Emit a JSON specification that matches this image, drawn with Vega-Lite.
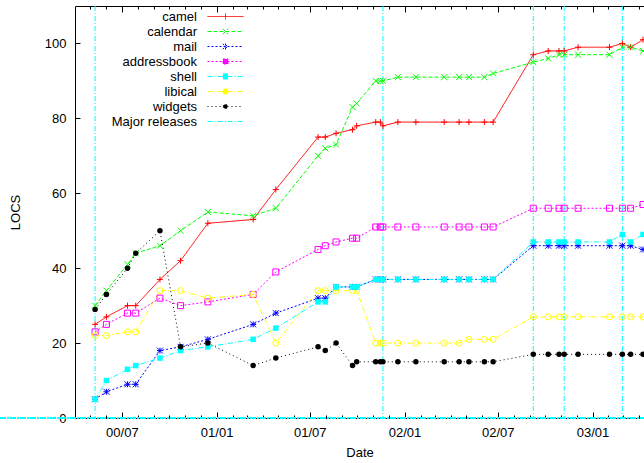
{
  "$schema": "https://vega.github.io/schema/vega-lite/v6.json",
  "width": 569,
  "height": 412,
  "autosize": {"type": "none"},
  "padding": {"left": 75, "top": 6, "right": 0, "bottom": 45},
  "background": "white",
  "config": {
    "view": {"stroke": null},
    "font": "Liberation Sans",
    "axis": {
      "grid": false,
      "labelFont": "Liberation Sans",
      "labelFontSize": 13,
      "labelColor": "#000000",
      "domainColor": "#000000",
      "tickColor": "#000000",
      "titleFont": "Liberation Sans",
      "titleFontSize": 13,
      "titleFontWeight": "normal",
      "titleColor": "#000000"
    },
    "legend": {
      "labelFont": "Liberation Sans",
      "labelFontSize": 13,
      "labelColor": "#000000"
    }
  },
  "data": {
    "values": [
      {"date": "2000-05-10", "series": "camel", "locs": 25},
      {"date": "2000-06-01", "series": "camel", "locs": 27},
      {"date": "2000-07-12", "series": "camel", "locs": 30},
      {"date": "2000-07-28", "series": "camel", "locs": 30},
      {"date": "2000-09-13", "series": "camel", "locs": 37},
      {"date": "2000-10-23", "series": "camel", "locs": 42},
      {"date": "2000-12-15", "series": "camel", "locs": 52},
      {"date": "2001-03-13", "series": "camel", "locs": 53},
      {"date": "2001-04-26", "series": "camel", "locs": 61},
      {"date": "2001-07-17", "series": "camel", "locs": 75},
      {"date": "2001-07-31", "series": "camel", "locs": 75},
      {"date": "2001-08-21", "series": "camel", "locs": 76},
      {"date": "2001-09-22", "series": "camel", "locs": 77},
      {"date": "2001-09-30", "series": "camel", "locs": 78},
      {"date": "2001-11-06", "series": "camel", "locs": 79},
      {"date": "2001-11-15", "series": "camel", "locs": 79},
      {"date": "2001-11-20", "series": "camel", "locs": 78},
      {"date": "2001-12-19", "series": "camel", "locs": 79},
      {"date": "2002-01-23", "series": "camel", "locs": 79},
      {"date": "2002-03-19", "series": "camel", "locs": 79},
      {"date": "2002-04-17", "series": "camel", "locs": 79},
      {"date": "2002-05-06", "series": "camel", "locs": 79},
      {"date": "2002-06-05", "series": "camel", "locs": 79},
      {"date": "2002-06-22", "series": "camel", "locs": 79},
      {"date": "2002-09-08", "series": "camel", "locs": 97},
      {"date": "2002-10-07", "series": "camel", "locs": 98},
      {"date": "2002-10-28", "series": "camel", "locs": 98},
      {"date": "2002-11-07", "series": "camel", "locs": 98},
      {"date": "2002-12-04", "series": "camel", "locs": 99},
      {"date": "2003-02-03", "series": "camel", "locs": 99},
      {"date": "2003-02-28", "series": "camel", "locs": 100},
      {"date": "2003-03-16", "series": "camel", "locs": 99},
      {"date": "2003-04-09", "series": "camel", "locs": 101},

      {"date": "2000-05-10", "series": "calendar", "locs": 30},
      {"date": "2000-06-01", "series": "calendar", "locs": 34},
      {"date": "2000-07-12", "series": "calendar", "locs": 41},
      {"date": "2000-07-28", "series": "calendar", "locs": 44},
      {"date": "2000-09-13", "series": "calendar", "locs": 46},
      {"date": "2000-10-23", "series": "calendar", "locs": 50},
      {"date": "2000-12-15", "series": "calendar", "locs": 55},
      {"date": "2001-03-13", "series": "calendar", "locs": 54},
      {"date": "2001-04-26", "series": "calendar", "locs": 56},
      {"date": "2001-07-17", "series": "calendar", "locs": 70},
      {"date": "2001-07-31", "series": "calendar", "locs": 72},
      {"date": "2001-08-21", "series": "calendar", "locs": 73},
      {"date": "2001-09-22", "series": "calendar", "locs": 83},
      {"date": "2001-09-30", "series": "calendar", "locs": 84},
      {"date": "2001-11-06", "series": "calendar", "locs": 90},
      {"date": "2001-11-15", "series": "calendar", "locs": 90},
      {"date": "2001-11-20", "series": "calendar", "locs": 90},
      {"date": "2001-12-19", "series": "calendar", "locs": 91},
      {"date": "2002-01-23", "series": "calendar", "locs": 91},
      {"date": "2002-03-19", "series": "calendar", "locs": 91},
      {"date": "2002-04-17", "series": "calendar", "locs": 91},
      {"date": "2002-05-06", "series": "calendar", "locs": 91},
      {"date": "2002-06-05", "series": "calendar", "locs": 91},
      {"date": "2002-06-22", "series": "calendar", "locs": 92},
      {"date": "2002-09-08", "series": "calendar", "locs": 95},
      {"date": "2002-10-07", "series": "calendar", "locs": 96},
      {"date": "2002-10-28", "series": "calendar", "locs": 97},
      {"date": "2002-11-07", "series": "calendar", "locs": 97},
      {"date": "2002-12-04", "series": "calendar", "locs": 97},
      {"date": "2003-02-03", "series": "calendar", "locs": 97},
      {"date": "2003-02-28", "series": "calendar", "locs": 99},
      {"date": "2003-03-16", "series": "calendar", "locs": 99},
      {"date": "2003-04-09", "series": "calendar", "locs": 98},

      {"date": "2000-05-10", "series": "mail", "locs": 5},
      {"date": "2000-06-01", "series": "mail", "locs": 7},
      {"date": "2000-07-12", "series": "mail", "locs": 9},
      {"date": "2000-07-28", "series": "mail", "locs": 9},
      {"date": "2000-09-13", "series": "mail", "locs": 18},
      {"date": "2000-10-23", "series": "mail", "locs": 19},
      {"date": "2000-12-15", "series": "mail", "locs": 21},
      {"date": "2001-03-13", "series": "mail", "locs": 25},
      {"date": "2001-04-26", "series": "mail", "locs": 28},
      {"date": "2001-07-17", "series": "mail", "locs": 32},
      {"date": "2001-07-31", "series": "mail", "locs": 32},
      {"date": "2001-08-21", "series": "mail", "locs": 35},
      {"date": "2001-09-22", "series": "mail", "locs": 35},
      {"date": "2001-09-30", "series": "mail", "locs": 35},
      {"date": "2001-11-06", "series": "mail", "locs": 37},
      {"date": "2001-11-15", "series": "mail", "locs": 37},
      {"date": "2001-11-20", "series": "mail", "locs": 37},
      {"date": "2001-12-19", "series": "mail", "locs": 37},
      {"date": "2002-01-23", "series": "mail", "locs": 37},
      {"date": "2002-03-19", "series": "mail", "locs": 37},
      {"date": "2002-04-17", "series": "mail", "locs": 37},
      {"date": "2002-05-06", "series": "mail", "locs": 37},
      {"date": "2002-06-05", "series": "mail", "locs": 37},
      {"date": "2002-06-22", "series": "mail", "locs": 37},
      {"date": "2002-09-08", "series": "mail", "locs": 46},
      {"date": "2002-10-07", "series": "mail", "locs": 46},
      {"date": "2002-10-28", "series": "mail", "locs": 46},
      {"date": "2002-11-07", "series": "mail", "locs": 46},
      {"date": "2002-12-04", "series": "mail", "locs": 46},
      {"date": "2003-02-03", "series": "mail", "locs": 46},
      {"date": "2003-02-28", "series": "mail", "locs": 46},
      {"date": "2003-03-16", "series": "mail", "locs": 46},
      {"date": "2003-04-09", "series": "mail", "locs": 45},

      {"date": "2000-05-10", "series": "addressbook", "locs": 23},
      {"date": "2000-06-01", "series": "addressbook", "locs": 25},
      {"date": "2000-07-12", "series": "addressbook", "locs": 28},
      {"date": "2000-07-28", "series": "addressbook", "locs": 28},
      {"date": "2000-09-13", "series": "addressbook", "locs": 32},
      {"date": "2000-10-23", "series": "addressbook", "locs": 30},
      {"date": "2000-12-15", "series": "addressbook", "locs": 31},
      {"date": "2001-03-13", "series": "addressbook", "locs": 33},
      {"date": "2001-04-26", "series": "addressbook", "locs": 39},
      {"date": "2001-07-17", "series": "addressbook", "locs": 45},
      {"date": "2001-07-31", "series": "addressbook", "locs": 46},
      {"date": "2001-08-21", "series": "addressbook", "locs": 47},
      {"date": "2001-09-22", "series": "addressbook", "locs": 48},
      {"date": "2001-09-30", "series": "addressbook", "locs": 48},
      {"date": "2001-11-06", "series": "addressbook", "locs": 51},
      {"date": "2001-11-15", "series": "addressbook", "locs": 51},
      {"date": "2001-11-20", "series": "addressbook", "locs": 51},
      {"date": "2001-12-19", "series": "addressbook", "locs": 51},
      {"date": "2002-01-23", "series": "addressbook", "locs": 51},
      {"date": "2002-03-19", "series": "addressbook", "locs": 51},
      {"date": "2002-04-17", "series": "addressbook", "locs": 51},
      {"date": "2002-05-06", "series": "addressbook", "locs": 51},
      {"date": "2002-06-05", "series": "addressbook", "locs": 51},
      {"date": "2002-06-22", "series": "addressbook", "locs": 51},
      {"date": "2002-09-08", "series": "addressbook", "locs": 56},
      {"date": "2002-10-07", "series": "addressbook", "locs": 56},
      {"date": "2002-10-28", "series": "addressbook", "locs": 56},
      {"date": "2002-11-07", "series": "addressbook", "locs": 56},
      {"date": "2002-12-04", "series": "addressbook", "locs": 56},
      {"date": "2003-02-03", "series": "addressbook", "locs": 56},
      {"date": "2003-02-28", "series": "addressbook", "locs": 56},
      {"date": "2003-03-16", "series": "addressbook", "locs": 56},
      {"date": "2003-04-09", "series": "addressbook", "locs": 57},

      {"date": "2000-05-10", "series": "shell", "locs": 5},
      {"date": "2000-06-01", "series": "shell", "locs": 10},
      {"date": "2000-07-12", "series": "shell", "locs": 13},
      {"date": "2000-07-28", "series": "shell", "locs": 14},
      {"date": "2000-09-13", "series": "shell", "locs": 16},
      {"date": "2000-10-23", "series": "shell", "locs": 18},
      {"date": "2000-12-15", "series": "shell", "locs": 19},
      {"date": "2001-03-13", "series": "shell", "locs": 21},
      {"date": "2001-04-26", "series": "shell", "locs": 24},
      {"date": "2001-07-17", "series": "shell", "locs": 31},
      {"date": "2001-07-31", "series": "shell", "locs": 31},
      {"date": "2001-08-21", "series": "shell", "locs": 35},
      {"date": "2001-09-22", "series": "shell", "locs": 35},
      {"date": "2001-09-30", "series": "shell", "locs": 35},
      {"date": "2001-11-06", "series": "shell", "locs": 37},
      {"date": "2001-11-15", "series": "shell", "locs": 37},
      {"date": "2001-11-20", "series": "shell", "locs": 37},
      {"date": "2001-12-19", "series": "shell", "locs": 37},
      {"date": "2002-01-23", "series": "shell", "locs": 37},
      {"date": "2002-03-19", "series": "shell", "locs": 37},
      {"date": "2002-04-17", "series": "shell", "locs": 37},
      {"date": "2002-05-06", "series": "shell", "locs": 37},
      {"date": "2002-06-05", "series": "shell", "locs": 37},
      {"date": "2002-06-22", "series": "shell", "locs": 37},
      {"date": "2002-09-08", "series": "shell", "locs": 47},
      {"date": "2002-10-07", "series": "shell", "locs": 47},
      {"date": "2002-10-28", "series": "shell", "locs": 47},
      {"date": "2002-11-07", "series": "shell", "locs": 47},
      {"date": "2002-12-04", "series": "shell", "locs": 47},
      {"date": "2003-02-03", "series": "shell", "locs": 47},
      {"date": "2003-02-28", "series": "shell", "locs": 49},
      {"date": "2003-03-16", "series": "shell", "locs": 47},
      {"date": "2003-04-09", "series": "shell", "locs": 49},

      {"date": "2000-05-10", "series": "libical", "locs": 22},
      {"date": "2000-06-01", "series": "libical", "locs": 22},
      {"date": "2000-07-12", "series": "libical", "locs": 23},
      {"date": "2000-07-28", "series": "libical", "locs": 23},
      {"date": "2000-09-13", "series": "libical", "locs": 34},
      {"date": "2000-10-23", "series": "libical", "locs": 34},
      {"date": "2000-12-15", "series": "libical", "locs": 32},
      {"date": "2001-03-13", "series": "libical", "locs": 33},
      {"date": "2001-04-26", "series": "libical", "locs": 20},
      {"date": "2001-07-17", "series": "libical", "locs": 34},
      {"date": "2001-07-31", "series": "libical", "locs": 34},
      {"date": "2001-08-21", "series": "libical", "locs": 34},
      {"date": "2001-09-22", "series": "libical", "locs": 34},
      {"date": "2001-09-30", "series": "libical", "locs": 34},
      {"date": "2001-11-06", "series": "libical", "locs": 20},
      {"date": "2001-11-15", "series": "libical", "locs": 20},
      {"date": "2001-11-20", "series": "libical", "locs": 20},
      {"date": "2001-12-19", "series": "libical", "locs": 20},
      {"date": "2002-01-23", "series": "libical", "locs": 20},
      {"date": "2002-03-19", "series": "libical", "locs": 20},
      {"date": "2002-04-17", "series": "libical", "locs": 20},
      {"date": "2002-05-06", "series": "libical", "locs": 21},
      {"date": "2002-06-05", "series": "libical", "locs": 21},
      {"date": "2002-06-22", "series": "libical", "locs": 21},
      {"date": "2002-09-08", "series": "libical", "locs": 27},
      {"date": "2002-10-07", "series": "libical", "locs": 27},
      {"date": "2002-10-28", "series": "libical", "locs": 27},
      {"date": "2002-11-07", "series": "libical", "locs": 27},
      {"date": "2002-12-04", "series": "libical", "locs": 27},
      {"date": "2003-02-03", "series": "libical", "locs": 27},
      {"date": "2003-02-28", "series": "libical", "locs": 27},
      {"date": "2003-03-16", "series": "libical", "locs": 27},
      {"date": "2003-04-09", "series": "libical", "locs": 27},

      {"date": "2000-05-10", "series": "widgets", "locs": 29},
      {"date": "2000-06-01", "series": "widgets", "locs": 33},
      {"date": "2000-07-12", "series": "widgets", "locs": 40},
      {"date": "2000-07-28", "series": "widgets", "locs": 44},
      {"date": "2000-09-13", "series": "widgets", "locs": 50},
      {"date": "2000-10-23", "series": "widgets", "locs": 19},
      {"date": "2000-12-15", "series": "widgets", "locs": 20},
      {"date": "2001-03-13", "series": "widgets", "locs": 14},
      {"date": "2001-04-26", "series": "widgets", "locs": 16},
      {"date": "2001-07-17", "series": "widgets", "locs": 19},
      {"date": "2001-07-31", "series": "widgets", "locs": 18},
      {"date": "2001-08-21", "series": "widgets", "locs": 20},
      {"date": "2001-09-22", "series": "widgets", "locs": 14},
      {"date": "2001-09-30", "series": "widgets", "locs": 15},
      {"date": "2001-11-06", "series": "widgets", "locs": 15},
      {"date": "2001-11-15", "series": "widgets", "locs": 15},
      {"date": "2001-11-20", "series": "widgets", "locs": 15},
      {"date": "2001-12-19", "series": "widgets", "locs": 15},
      {"date": "2002-01-23", "series": "widgets", "locs": 15},
      {"date": "2002-03-19", "series": "widgets", "locs": 15},
      {"date": "2002-04-17", "series": "widgets", "locs": 15},
      {"date": "2002-05-06", "series": "widgets", "locs": 15},
      {"date": "2002-06-05", "series": "widgets", "locs": 15},
      {"date": "2002-06-22", "series": "widgets", "locs": 15},
      {"date": "2002-09-08", "series": "widgets", "locs": 17},
      {"date": "2002-10-07", "series": "widgets", "locs": 17},
      {"date": "2002-10-28", "series": "widgets", "locs": 17},
      {"date": "2002-11-07", "series": "widgets", "locs": 17},
      {"date": "2002-12-04", "series": "widgets", "locs": 17},
      {"date": "2003-02-03", "series": "widgets", "locs": 17},
      {"date": "2003-02-28", "series": "widgets", "locs": 17},
      {"date": "2003-03-16", "series": "widgets", "locs": 17},
      {"date": "2003-04-09", "series": "widgets", "locs": 17},

      {"date": "2000-05-10", "series": "Major releases"},
      {"date": "2001-11-20", "series": "Major releases"},
      {"date": "2002-09-08", "series": "Major releases"},
      {"date": "2002-11-07", "series": "Major releases"},
      {"date": "2003-02-28", "series": "Major releases"}
    ]
  },
  "resolve": {"axis": {"x": "independent"}},
  "layer": [
    {
      "transform": [{"filter": "datum.series != 'Major releases'"}],
      "mark": {"type": "line", "strokeWidth": 1, "clip": true},
      "encoding": {
        "x": {
          "field": "date", "type": "temporal", "title": "Date",
          "scale": {"type": "utc", "domain": [{"year": 2000, "month": 4, "date": 1, "utc": true}, {"year": 2003, "month": 4, "date": 11, "utc": true}]},
          "axis": {
            "orient": "bottom", "domain": true, "domainWidth": 1,
            "labelExpr": "utcmonth(datum.value) % 6 == 0 ? utcFormat(datum.value, '%y/%m') : ''",
            "labelOverlap": false, "labelFlush": false, "labelPadding": 14, "titlePadding": 4,
            "tickSize": {"condition": {"test": "utcmonth(datum.value) % 6 == 0", "value": -6}, "value": -3},
            "values": [
              {"year": 2000, "month": 5, "date": 1, "utc": true}, {"year": 2000, "month": 6, "date": 1, "utc": true}, {"year": 2000, "month": 7, "date": 1, "utc": true}, {"year": 2000, "month": 8, "date": 1, "utc": true}, {"year": 2000, "month": 9, "date": 1, "utc": true}, {"year": 2000, "month": 10, "date": 1, "utc": true}, {"year": 2000, "month": 11, "date": 1, "utc": true}, {"year": 2000, "month": 12, "date": 1, "utc": true},
              {"year": 2001, "month": 1, "date": 1, "utc": true}, {"year": 2001, "month": 2, "date": 1, "utc": true}, {"year": 2001, "month": 3, "date": 1, "utc": true}, {"year": 2001, "month": 4, "date": 1, "utc": true}, {"year": 2001, "month": 5, "date": 1, "utc": true}, {"year": 2001, "month": 6, "date": 1, "utc": true}, {"year": 2001, "month": 7, "date": 1, "utc": true}, {"year": 2001, "month": 8, "date": 1, "utc": true}, {"year": 2001, "month": 9, "date": 1, "utc": true}, {"year": 2001, "month": 10, "date": 1, "utc": true}, {"year": 2001, "month": 11, "date": 1, "utc": true}, {"year": 2001, "month": 12, "date": 1, "utc": true},
              {"year": 2002, "month": 1, "date": 1, "utc": true}, {"year": 2002, "month": 2, "date": 1, "utc": true}, {"year": 2002, "month": 3, "date": 1, "utc": true}, {"year": 2002, "month": 4, "date": 1, "utc": true}, {"year": 2002, "month": 5, "date": 1, "utc": true}, {"year": 2002, "month": 6, "date": 1, "utc": true}, {"year": 2002, "month": 7, "date": 1, "utc": true}, {"year": 2002, "month": 8, "date": 1, "utc": true}, {"year": 2002, "month": 9, "date": 1, "utc": true}, {"year": 2002, "month": 10, "date": 1, "utc": true}, {"year": 2002, "month": 11, "date": 1, "utc": true}, {"year": 2002, "month": 12, "date": 1, "utc": true},
              {"year": 2003, "month": 1, "date": 1, "utc": true}, {"year": 2003, "month": 2, "date": 1, "utc": true}, {"year": 2003, "month": 3, "date": 1, "utc": true}, {"year": 2003, "month": 4, "date": 1, "utc": true}
            ]
          }
        },
        "y": {
          "field": "locs", "type": "quantitative", "title": "LOCS",
          "scale": {"domain": [0, 110], "nice": false},
          "axis": {"values": [0, 20, 40, 60, 80, 100], "tickSize": -5, "labelPadding": 14, "titlePadding": 22, "domain": true, "domainWidth": 1}
        },
        "color": {
          "field": "series", "type": "nominal",
          "scale": {"domain": ["camel", "calendar", "mail", "addressbook", "shell", "libical", "widgets", "Major releases"], "range": ["#ff0000", "#00ff00", "#0000ff", "#ff00ff", "#00ffff", "#ffff00", "#000000", "#00ffff"]},
          "legend": {"orient": "none", "legendX": 34, "legendY": 3, "title": null, "symbolType": "M-2.57,0H2.57M0,-0.1V0.1", "symbolSize": 196, "symbolStrokeWidth": 1, "labelAlign": "right", "symbolOffset": 109, "labelOffset": -36, "rowPadding": 0, "labelLimit": 200,
            "encode": {"symbols": {"update": {
              "shape": {"signal": "datum.value == 'camel' ? 'M-2.57,0H2.57M0,-0.43V0.43' : datum.value == 'calendar' ? 'M-2.57,0H2.57M-0.39,-0.39L0.39,0.39M-0.39,0.39L0.39,-0.39' : datum.value == 'mail' ? 'M-2.57,0H2.57M0,-0.43V0.43M-0.39,-0.39L0.39,0.39M-0.39,0.39L0.39,-0.39' : (datum.value == 'addressbook' || datum.value == 'shell') ? 'M-2.57,0H2.57M-0.36,-0.36H0.36V0.36H-0.36Z' : datum.value == 'libical' ? 'M-2.57,0H2.57M-0.39,0A0.39,0.39 0 1,0 0.39,0A0.39,0.39 0 1,0 -0.39,0Z' : datum.value == 'widgets' ? 'M-2.57,0H2.57M-0.31,0A0.31,0.31 0 1,0 0.31,0A0.31,0.31 0 1,0 -0.31,0Z' : 'M-2.57,0H2.57M0,-0.1V0.1'"},
              "size": {"value": 196},
              "stroke": {"scale": "color", "field": "value"},
              "fill": {"signal": "(datum.value == 'shell' || datum.value == 'widgets') ? scale('color', datum.value) : 'transparent'"},
              "strokeDash": {"scale": "strokeDash", "field": "value"},
              "strokeWidth": {"value": 1},
              "opacity": {"value": 1}}}}}
        },
        "strokeDash": {
          "field": "series", "type": "nominal",
          "scale": {"domain": ["camel", "calendar", "mail", "addressbook", "shell", "libical", "widgets", "Major releases"], "range": [[1, 0], [4, 2], [2, 2], [2, 2], [5, 2, 1, 2], [5, 2, 1, 2], [1, 3], [5, 2, 1, 2]]},
          "legend": {"orient": "none", "legendX": 34, "legendY": 3, "title": null, "symbolType": "M-2.57,0H2.57M0,-0.1V0.1", "symbolSize": 196, "symbolStrokeWidth": 1, "labelAlign": "right", "symbolOffset": 109, "labelOffset": -36, "rowPadding": 0, "labelLimit": 200,
            "encode": {"symbols": {"update": {
              "shape": {"signal": "datum.value == 'camel' ? 'M-2.57,0H2.57M0,-0.43V0.43' : datum.value == 'calendar' ? 'M-2.57,0H2.57M-0.39,-0.39L0.39,0.39M-0.39,0.39L0.39,-0.39' : datum.value == 'mail' ? 'M-2.57,0H2.57M0,-0.43V0.43M-0.39,-0.39L0.39,0.39M-0.39,0.39L0.39,-0.39' : (datum.value == 'addressbook' || datum.value == 'shell') ? 'M-2.57,0H2.57M-0.36,-0.36H0.36V0.36H-0.36Z' : datum.value == 'libical' ? 'M-2.57,0H2.57M-0.39,0A0.39,0.39 0 1,0 0.39,0A0.39,0.39 0 1,0 -0.39,0Z' : datum.value == 'widgets' ? 'M-2.57,0H2.57M-0.31,0A0.31,0.31 0 1,0 0.31,0A0.31,0.31 0 1,0 -0.31,0Z' : 'M-2.57,0H2.57M0,-0.1V0.1'"},
              "size": {"value": 196},
              "stroke": {"scale": "color", "field": "value"},
              "fill": {"signal": "(datum.value == 'shell' || datum.value == 'widgets') ? scale('color', datum.value) : 'transparent'"},
              "strokeDash": {"scale": "strokeDash", "field": "value"},
              "strokeWidth": {"value": 1},
              "opacity": {"value": 1}}}}}
        }
      }
    },
    {
      "transform": [{"filter": "datum.series == 'Major releases'"}],
      "mark": {"type": "rule", "strokeWidth": 1},
      "encoding": {
        "x": {
          "field": "date", "type": "temporal",
          "axis": {
            "orient": "top", "title": null, "labels": false, "domain": true, "domainWidth": 1,
            "tickSize": {"condition": {"test": "utcmonth(datum.value) % 6 == 0", "value": -6}, "value": -3},
            "values": [
              {"year": 2000, "month": 5, "date": 1, "utc": true}, {"year": 2000, "month": 6, "date": 1, "utc": true}, {"year": 2000, "month": 7, "date": 1, "utc": true}, {"year": 2000, "month": 8, "date": 1, "utc": true}, {"year": 2000, "month": 9, "date": 1, "utc": true}, {"year": 2000, "month": 10, "date": 1, "utc": true}, {"year": 2000, "month": 11, "date": 1, "utc": true}, {"year": 2000, "month": 12, "date": 1, "utc": true},
              {"year": 2001, "month": 1, "date": 1, "utc": true}, {"year": 2001, "month": 2, "date": 1, "utc": true}, {"year": 2001, "month": 3, "date": 1, "utc": true}, {"year": 2001, "month": 4, "date": 1, "utc": true}, {"year": 2001, "month": 5, "date": 1, "utc": true}, {"year": 2001, "month": 6, "date": 1, "utc": true}, {"year": 2001, "month": 7, "date": 1, "utc": true}, {"year": 2001, "month": 8, "date": 1, "utc": true}, {"year": 2001, "month": 9, "date": 1, "utc": true}, {"year": 2001, "month": 10, "date": 1, "utc": true}, {"year": 2001, "month": 11, "date": 1, "utc": true}, {"year": 2001, "month": 12, "date": 1, "utc": true},
              {"year": 2002, "month": 1, "date": 1, "utc": true}, {"year": 2002, "month": 2, "date": 1, "utc": true}, {"year": 2002, "month": 3, "date": 1, "utc": true}, {"year": 2002, "month": 4, "date": 1, "utc": true}, {"year": 2002, "month": 5, "date": 1, "utc": true}, {"year": 2002, "month": 6, "date": 1, "utc": true}, {"year": 2002, "month": 7, "date": 1, "utc": true}, {"year": 2002, "month": 8, "date": 1, "utc": true}, {"year": 2002, "month": 9, "date": 1, "utc": true}, {"year": 2002, "month": 10, "date": 1, "utc": true}, {"year": 2002, "month": 11, "date": 1, "utc": true}, {"year": 2002, "month": 12, "date": 1, "utc": true},
              {"year": 2003, "month": 1, "date": 1, "utc": true}, {"year": 2003, "month": 2, "date": 1, "utc": true}, {"year": 2003, "month": 3, "date": 1, "utc": true}, {"year": 2003, "month": 4, "date": 1, "utc": true}
            ]
          }
        },
        "color": {"field": "series", "type": "nominal"},
        "strokeDash": {"field": "series", "type": "nominal"}
      }
    },
    {
      "mark": {"type": "rule", "strokeWidth": 1, "color": "#00ffff", "strokeDash": [5, 2, 1, 2], "clip": false},
      "encoding": {
        "x": {"datum": {"year": 1999, "month": 1, "date": 1, "utc": true}, "type": "temporal", "axis": null},
        "x2": {"datum": {"year": 2004, "month": 1, "date": 1, "utc": true}},
        "y": {"datum": 0, "type": "quantitative"}
      }
    },
    {
      "transform": [{"filter": "datum.series != 'Major releases' && datum.series != 'shell' && datum.series != 'widgets'"}],
      "mark": {"type": "point", "filled": false, "size": 36, "strokeWidth": 1, "opacity": 1, "clip": true},
      "encoding": {
        "x": {"field": "date", "type": "temporal", "axis": null},
        "y": {"field": "locs", "type": "quantitative"},
        "color": {"field": "series", "type": "nominal"},
        "shape": {
          "field": "series", "type": "nominal", "legend": null,
          "scale": {"domain": ["camel", "calendar", "mail", "addressbook", "shell", "libical", "widgets"], "range": ["M-1,0H1M0,-1V1", "M-1,-1L1,1M-1,1L1,-1", "M-1,0H1M0,-1V1M-1,-1L1,1M-1,1L1,-1", "square", "square", "circle", "circle"]}
        }
      }
    },
    {
      "transform": [{"filter": "datum.series == 'shell' || datum.series == 'widgets'"}],
      "mark": {"type": "point", "filled": true, "size": 30, "opacity": 1, "clip": true},
      "encoding": {
        "x": {"field": "date", "type": "temporal", "axis": null},
        "y": {"field": "locs", "type": "quantitative"},
        "color": {"field": "series", "type": "nominal"},
        "shape": {"field": "series", "type": "nominal", "legend": null}
      }
    }
  ]
}
